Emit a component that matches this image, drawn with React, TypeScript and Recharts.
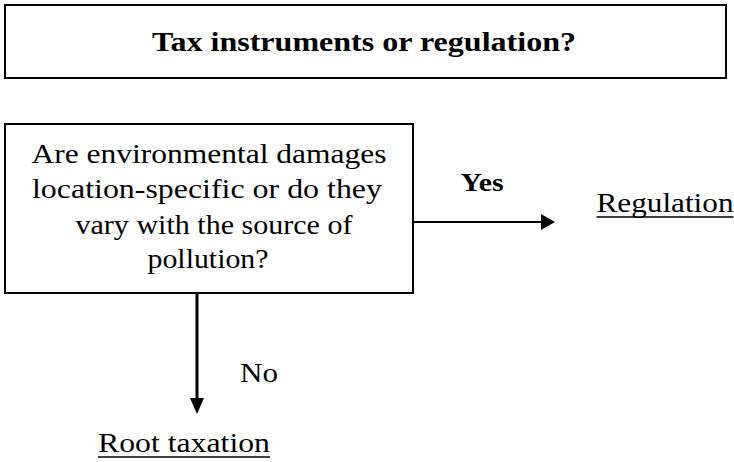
import React from 'react';
import {
  ScatterChart,
  Scatter,
  XAxis,
  YAxis,
  ReferenceArea,
  ReferenceLine,
  ReferenceDot,
} from 'recharts';

// Diagram drawn on a pixel-like grid (0..734 x 0..462, y grows downward)
const boxes = [
  { id: 'title', x1: 5, x2: 726, y1: 5, y2: 78 },
  { id: 'question', x1: 5, x2: 413, y1: 124, y2: 293 },
];

const arrows = [
  { id: 'yes', x1: 413, y1: 222, x2: 545, y2: 222, dir: 'right' },
  { id: 'no', x1: 197, y1: 293, x2: 197, y2: 402, dir: 'down' },
];

const labels = [
  { x: 364, y: 51, text: 'Tax instruments or regulation?', size: 27, bold: true, width: 424, underline: false },
  { x: 209, y: 163, text: 'Are environmental damages', size: 28, bold: false, width: 355, underline: false },
  { x: 207, y: 198, text: 'location-specific or do they', size: 28, bold: false, width: 350, underline: false },
  { x: 214, y: 234, text: 'vary with the source of', size: 28, bold: false, width: 277, underline: false },
  { x: 208, y: 268, text: 'pollution?', size: 28, bold: false, width: 121, underline: false },
  { x: 482, y: 191, text: 'Yes', size: 25, bold: true, width: 43, underline: false },
  { x: 665, y: 212, text: 'Regulation', size: 28, bold: false, width: 137, underline: true },
  { x: 259, y: 382, text: 'No', size: 28, bold: false, width: 38, underline: false },
  { x: 184, y: 452, text: 'Root taxation', size: 28, bold: false, width: 172, underline: true },
];

const FONT = "'Liberation Serif', 'Times New Roman', serif";

const Arrowhead = ({ cx, cy, dir }: any) => {
  if (cx == null || cy == null) return null;
  const pts =
    dir === 'right'
      ? `${cx - 4},${cy - 8} ${cx + 10},${cy} ${cx - 4},${cy + 8}`
      : `${cx - 7},${cy - 4} ${cx},${cy + 12} ${cx + 7},${cy - 4}`;
  return <polygon points={pts} fill="#000" />;
};

const LabelShape = (props: any) => {
  const { cx, cy, payload } = props;
  if (cx == null || cy == null) return null;
  const half = payload.width / 2;
  return (
    <g>
      <text
        x={cx}
        y={cy}
        textAnchor="middle"
        style={{ fontFamily: FONT, fontSize: payload.size, fontWeight: payload.bold ? 700 : 400 }}
        textLength={payload.width}
        lengthAdjust="spacingAndGlyphs"
        fill="#000"
      >
        {payload.text}
      </text>
      {payload.underline && (
        <line x1={cx - half} x2={cx + half} y1={cy + 5} y2={cy + 5} stroke="#000" strokeWidth={1.5} />
      )}
    </g>
  );
};

export default function App() {
  return (
    <div style={{ position: 'absolute', left: 0, top: 0, width: 734, height: 462, background: '#fff' }}>
      <ScatterChart width={734} height={462} margin={{ top: 0, right: 0, bottom: 0, left: 0 }}>
        <XAxis type="number" dataKey="x" domain={[0, 734]} hide allowDataOverflow />
        <YAxis type="number" dataKey="y" domain={[0, 462]} reversed hide allowDataOverflow />
        {boxes.map((b) => (
          <ReferenceArea
            key={b.id}
            x1={b.x1}
            x2={b.x2}
            y1={b.y1}
            y2={b.y2}
            fill="#fff"
            fillOpacity={1}
            stroke="#000"
            strokeWidth={2}
            ifOverflow="visible"
          />
        ))}
        {arrows.map((a) => (
          <ReferenceLine
            key={a.id}
            segment={[
              { x: a.x1, y: a.y1 },
              { x: a.x2, y: a.y2 },
            ]}
            stroke="#000"
            strokeWidth={a.dir === 'down' ? 3 : 2}
            ifOverflow="visible"
          />
        ))}
        {arrows.map((a) => (
          <ReferenceDot
            key={a.id + '-head'}
            x={a.x2}
            y={a.y2}
            r={0}
            ifOverflow="visible"
            shape={(p: any) => <Arrowhead cx={p.cx} cy={p.cy} dir={a.dir} />}
          />
        ))}
        <Scatter data={labels} dataKey="y" isAnimationActive={false} shape={<LabelShape />} />
      </ScatterChart>
    </div>
  );
}
